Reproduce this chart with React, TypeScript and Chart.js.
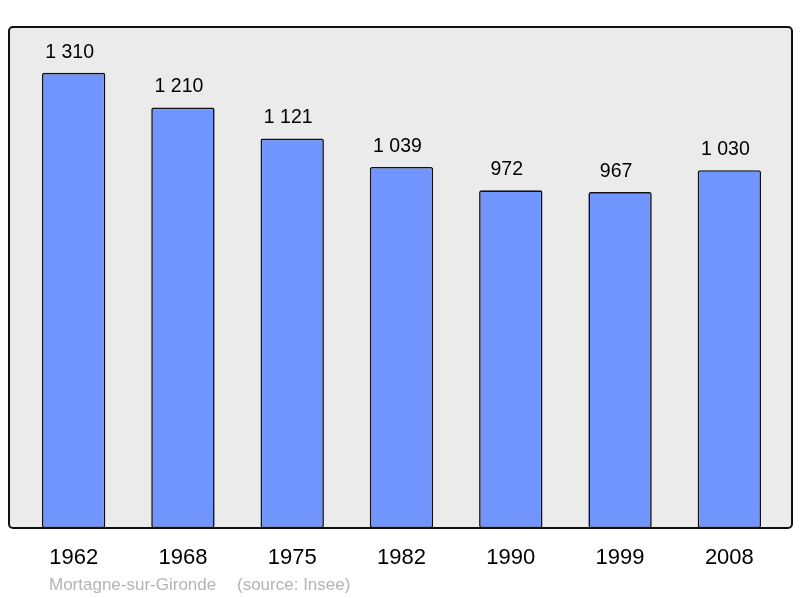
import React, { useEffect, useRef } from "react";
import { Chart, registerables } from "chart.js";

Chart.register(...registerables);

const years = ["1962", "1968", "1975", "1982", "1990", "1999", "2008"];
const population = [1310, 1210, 1121, 1039, 972, 967, 1030];
const placeName = "Mortagne-sur-Gironde";
const sourceText = "(source: Insee)";

const fmt = (v: number) => {
  const s = String(v);
  return s.length > 3 ? s.slice(0, s.length - 3) + " " + s.slice(-3) : s;
};

const FONT = '"Liberation Sans", Arial, sans-serif';

const framePlugin = {
  id: "frame",
  beforeDraw(chart: any) {
    const { ctx, chartArea } = chart;
    const x = chartArea.left - 10;
    const y = chartArea.top;
    const w = chartArea.right + 8 - x;
    const h = chartArea.bottom - y;
    ctx.save();
    ctx.beginPath();
    ctx.roundRect(x, y, w, h, 4);
    ctx.fillStyle = "#ebebeb";
    ctx.fill();
    ctx.restore();
  },
  afterDatasetsDraw(chart: any) {
    const { ctx, chartArea } = chart;
    const x = chartArea.left - 10;
    const y = chartArea.top;
    const w = chartArea.right + 8 - x;
    const h = chartArea.bottom - y;
    ctx.save();
    ctx.beginPath();
    ctx.roundRect(x, y, w, h, 4);
    ctx.lineWidth = 2;
    ctx.strokeStyle = "#111";
    ctx.stroke();
    // value labels
    const meta = chart.getDatasetMeta(0);
    ctx.fillStyle = "#000";
    ctx.font = "19.5px " + FONT;
    ctx.textAlign = "center";
    ctx.textBaseline = "middle";
    meta.data.forEach((bar: any, i: number) => {
      ctx.fillText(fmt(population[i]), bar.x - 4, bar.y - 20.5);
    });
    // footer
    ctx.fillStyle = "#b4b4b4";
    ctx.font = "17px " + FONT;
    ctx.textAlign = "left";
    ctx.fillText(placeName, 49, 585);
    ctx.fillText(sourceText, 237, 585);
    ctx.restore();
  },
};

export default function App() {
  const ref = useRef<HTMLCanvasElement>(null);
  useEffect(() => {
    document.body.style.margin = "0";
    const chart = new Chart(ref.current!, {
      type: "bar",
      data: {
        labels: years,
        datasets: [
          {
            data: population,
            backgroundColor: "#7095ff",
            borderColor: "#111",
            borderWidth: 1.6,
            borderRadius: 2,
            borderSkipped: false,
            barPercentage: 0.58,
            categoryPercentage: 1,
          },
        ],
      },
      options: {
        responsive: false,
        animation: false,
        devicePixelRatio: 1,
        layout: { padding: { left: 19, right: 16, top: 27, bottom: 0 } },
        plugins: { legend: { display: false }, tooltip: { enabled: false } },
        scales: {
          y: { display: false, min: 0, max: 1442 },
          x: {
            grid: { display: false, drawTicks: false },
            border: { display: false },
            ticks: {
              color: "#000",
              font: { size: 22, family: FONT },
              padding: 17,
            },
            afterFit(scale: any) {
              scale.height = 70;
            },
          },
        },
      },
      plugins: [framePlugin],
    });
    return () => chart.destroy();
  }, []);
  return <canvas ref={ref} width={800} height={598} style={{ display: "block" }} />;
}
